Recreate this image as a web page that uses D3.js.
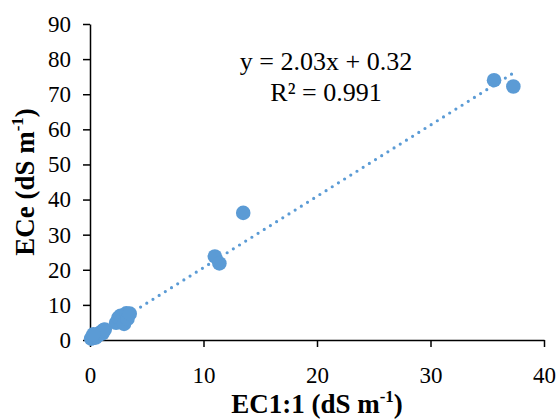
<!DOCTYPE html>
<html>
<head>
<meta charset="utf-8">
<script src="https://cdn.jsdelivr.net/npm/d3@7"></script>
<style>
  body { margin: 0; background: #fff; }
  text { font-family: "Liberation Serif", "Times New Roman", serif; }
</style>
</head>
<body>
<div class="viz"></div>
<script>
// EC1:1 vs ECe readings
const ec11 = [0.1, 0.2, 0.3, 0.4, 0.5, 0.5, 0.6, 0.7, 0.8, 0.9, 1.0, 1.1, 1.2, 1.3, 0.3,
  2.3, 2.5, 2.7, 2.8, 3.0, 3.2, 3.3, 3.5,
  11.0, 11.4, 13.5, 35.6, 37.3];
const ece = [0.4, 0.8, 0.6, 1.0, 1.2, 0.7, 1.5, 1.3, 1.8, 2.0, 2.3, 1.9, 2.8, 3.0, 1.6,
  4.9, 6.3, 6.9, 5.5, 4.6, 7.6, 6.0, 7.5,
  23.8, 21.8, 36.2, 74.0, 72.2];
const xTicks = [0, 10, 20, 30, 40];
const yTicks = [0, 10, 20, 30, 40, 50, 60, 70, 80, 90];
const slope = 2.03, intercept = 0.32;
const eqLabel = "y = 2.03x + 0.32";
const r2Label = "R² = 0.991";

const width = 558, height = 420;
const margin = { left: 90, right: 14, top: 24, bottom: 80 };
const blue = "#5b9bd5";

const svg = d3.select(".viz").append("svg")
  .attr("width", width)
  .attr("height", height);

const x = d3.scaleLinear().domain([0, 40]).range([margin.left, width - margin.right]);
const y = d3.scaleLinear().domain([0, 90]).range([height - margin.bottom, margin.top]);

const xAxis = svg.append("g")
  .attr("transform", `translate(0,${y(0)})`)
  .call(d3.axisBottom(x).tickValues(xTicks).tickSize(7).tickSizeOuter(0));
xAxis.selectAll("text").attr("dy", "1.45em");

const yAxis = svg.append("g")
  .attr("transform", `translate(${x(0)},0)`)
  .call(d3.axisLeft(y).tickValues(yTicks).tickSize(7).tickSizeOuter(0));
yAxis.selectAll("text").attr("x", -19);

svg.selectAll(".tick text")
  .style("font-family", "'Liberation Serif', serif")
  .style("font-size", "23px")
  .attr("fill", "#000");
svg.selectAll(".domain, .tick line").attr("stroke", "#000").attr("stroke-width", 1.5);

// trendline
const x0 = d3.min(ec11), x1 = d3.max(ec11);
svg.append("line")
  .attr("x1", x(x0)).attr("y1", y(slope * x0 + intercept))
  .attr("x2", x(x1)).attr("y2", y(slope * x1 + intercept))
  .attr("stroke", blue)
  .attr("stroke-width", 3.2)
  .attr("stroke-linecap", "round")
  .attr("stroke-dasharray", "0,7.3");

svg.append("g").selectAll("circle")
  .data(ec11)
  .enter().append("circle")
  .attr("cx", d => x(d))
  .attr("cy", (d, i) => y(ece[i]))
  .attr("r", 7.3)
  .attr("fill", blue);

svg.append("text")
  .attr("x", 326).attr("y", 70)
  .attr("text-anchor", "middle")
  .style("font-size", "26px")
  .text(eqLabel);
svg.append("text")
  .attr("x", 326).attr("y", 101)
  .attr("text-anchor", "middle")
  .style("font-size", "26px")
  .text(r2Label);

// axis titles
const xt = svg.append("text")
  .attr("x", (x(0) + x(40)) / 2).attr("y", 413)
  .attr("text-anchor", "middle")
  .style("font-size", "27px")
  .style("font-weight", "bold");
xt.append("tspan").text("EC1:1 (dS m");
xt.append("tspan").attr("dy", -11).style("font-size", "17px").text("-1");
xt.append("tspan").attr("dy", 11).text(")");

const yt = svg.append("text")
  .attr("transform", `translate(34,${(y(0) + y(90)) / 2}) rotate(-90)`)
  .attr("text-anchor", "middle")
  .style("font-size", "27px")
  .style("font-weight", "bold");
yt.append("tspan").text("ECe (dS m");
yt.append("tspan").attr("dy", -11).style("font-size", "17px").text("-1");
yt.append("tspan").attr("dy", 11).text(")");
</script>
</body>
</html>
